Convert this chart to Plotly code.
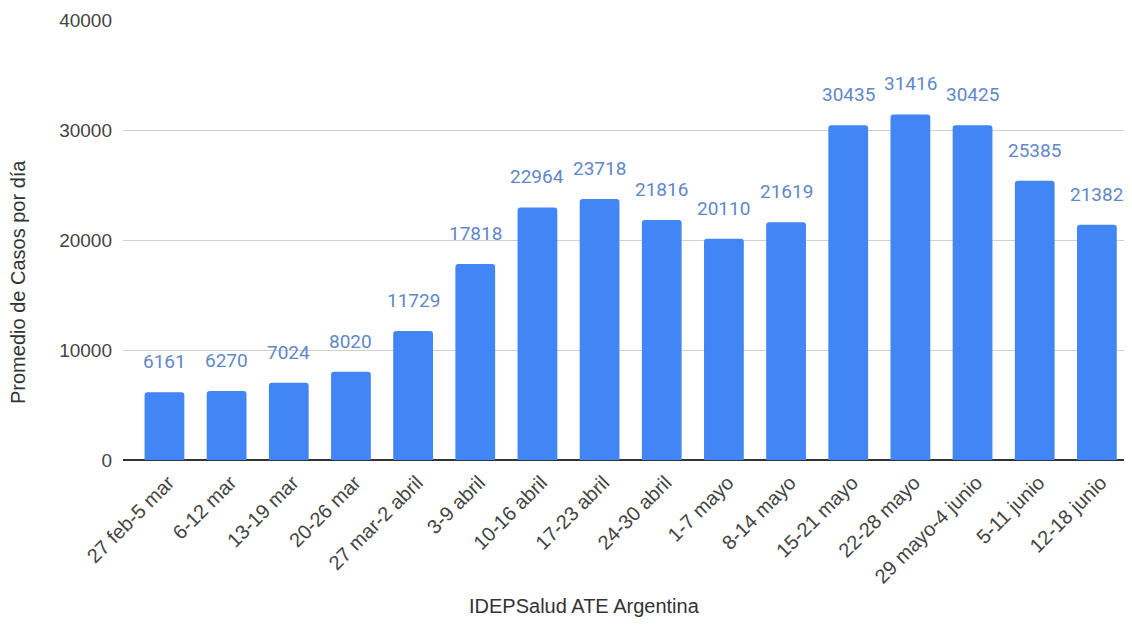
import plotly.graph_objects as go

categories = ["27 feb-5 mar", "6-12 mar", "13-19 mar", "20-26 mar", "27 mar-2 abril",
              "3-9 abril", "10-16 abril", "17-23 abril", "24-30 abril", "1-7 mayo",
              "8-14 mayo", "15-21 mayo", "22-28 mayo", "29 mayo-4 junio", "5-11 junio",
              "12-18 junio"]
values = [6161, 6270, 7024, 8020, 11729, 17818, 22964, 23718, 21816, 20110,
          21619, 30435, 31416, 30425, 25385, 21382]
y_ticks = [0, 10000, 20000, 30000, 40000]

y_title = "Promedio de Casos por día"
x_title = "IDEPSalud ATE Argentina"

# page body has an 8px margin; figure sized so it ends at the window edge
W, H = 1124, 619
ml, mr, mt, mb = 115, 0, 12, 167
pw, ph = W - ml - mr, H - mt - mb

fig = go.Figure()
fig.add_trace(go.Bar(
    x=categories, y=values,
    marker=dict(color="#4285f4", cornerradius=3, line=dict(width=0)),
    hoverinfo="x+y",
))

annotations = []
for c, v in zip(categories, values):
    annotations.append(dict(
        x=c, y=v, xref="x", yref="y", text=str(v), showarrow=False,
        yanchor="bottom", yshift=17,
        font=dict(family="Roboto, Arial, sans-serif", size=19, color="#5f88c9"),
    ))

title_font = dict(family="Liberation Sans, Arial, sans-serif", size=20, color="#333333")
# x title centred at pixel (576, 598), y title at (10, 274) in figure pixels
annotations.append(dict(
    x=(576 - ml) / pw, y=(H - mb - 598) / ph, xref="paper", yref="paper",
    text=x_title, showarrow=False, font=title_font,
    xanchor="center", yanchor="middle",
))
annotations.append(dict(
    x=(10 - ml) / pw, y=(H - mb - 274) / ph, xref="paper", yref="paper",
    text=y_title, showarrow=False, textangle=-90, font=title_font,
    xanchor="center", yanchor="middle",
))

fig.update_layout(
    width=W, height=H,
    margin=dict(l=ml, r=mr, t=mt, b=mb, autoexpand=False),
    paper_bgcolor="white", plot_bgcolor="white",
    bargap=0.36,
    showlegend=False,
    annotations=annotations,
    font=dict(family="Liberation Sans, Arial, sans-serif", size=18, color="#444444"),
    xaxis=dict(
        range=[-0.667, 15.565], tickangle=-45, showgrid=False,
        tickfont=dict(size=20, color="#444444"),
        showline=False, ticks="", zeroline=False,
        ticklabelshift=4, ticklabelstandoff=6,
    ),
    yaxis=dict(
        range=[0, 40000], tickvals=y_ticks, ticktext=[str(t) for t in y_ticks],
        showgrid=True, gridcolor="#d0d0d0", gridwidth=1,
        zeroline=True, zerolinecolor="#333333", zerolinewidth=1.5,
        tickfont=dict(size=19, color="#444444"),
        ticklabelstandoff=10, showline=False,
    ),
)

fig.write_html("out.html")
